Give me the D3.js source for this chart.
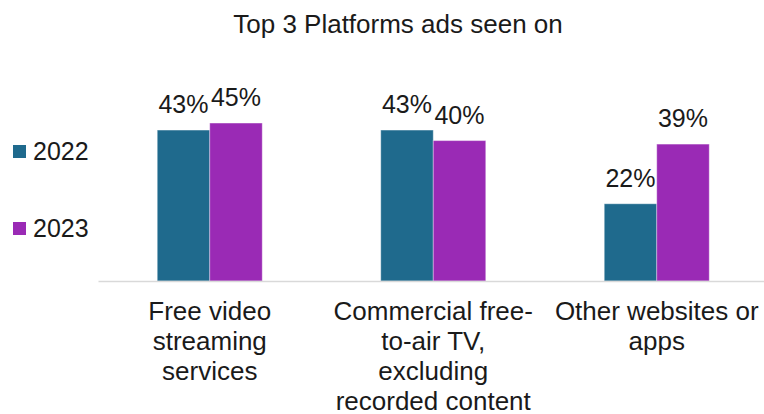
<!DOCTYPE html>
<html>
<head>
<meta charset="utf-8">
<script src="https://cdn.jsdelivr.net/npm/d3@7"></script>
<style>
  html, body { margin: 0; padding: 0; background: #fff; }
  svg { display: block; font-family: "Liberation Sans", Arial, sans-serif; }
</style>
</head>
<body>
<svg id="chart" width="764" height="414"></svg>
<script>
// Share of respondents who saw ads on each platform
const categories = [
  "Free video streaming services",
  "Commercial free-to-air TV, excluding recorded content",
  "Other websites or apps"
];
const categoryLines = [
  ["Free video", "streaming", "services"],
  ["Commercial free-", "to-air TV,", "excluding", "recorded content"],
  ["Other websites or", "apps"]
];
const seriesNames = ["2022", "2023"];
const values2022 = [43, 43, 22];
const values2023 = [45, 40, 39];
const colors = ["#1f6a8d", "#9a2ab5"];

const svg = d3.select("#chart");
const W = 764, H = 414;
const baseY = 281;

const x = d3.scaleBand().domain(categories).range([98, 768.5]).padding(0);
const xs = d3.scaleBand().domain(seriesNames).range([0, x.bandwidth()])
  .paddingInner(0).paddingOuter(1.129);
const y = d3.scaleLinear().domain([0, 50]).range([baseY, baseY - 175.5]);

const rows = categories.map((c, i) => ({
  cat: c,
  vals: [
    { s: seriesNames[0], v: values2022[i], color: colors[0] },
    { s: seriesNames[1], v: values2023[i], color: colors[1] }
  ]
}));

// Title
svg.append("text")
  .attr("x", 398).attr("y", 33)
  .attr("text-anchor", "middle")
  .attr("font-size", 26)
  .attr("fill", "#1a1a1a")
  .text("Top 3 Platforms ads seen on");

// Bars
const groups = svg.append("g").selectAll("g").data(rows).join("g")
  .attr("transform", d => `translate(${x(d.cat)},0)`);

groups.selectAll("rect").data(d => d.vals).join("rect")
  .attr("x", d => xs(d.s))
  .attr("width", xs.bandwidth())
  .attr("y", d => y(d.v))
  .attr("height", d => baseY - y(d.v))
  .attr("fill", d => d.color)
  .attr("stroke", "rgba(255,255,255,0.35)")
  .attr("stroke-width", 1);

// Value labels
groups.selectAll("text.val").data(d => d.vals).join("text")
  .attr("class", "val")
  .attr("x", d => xs(d.s) + xs.bandwidth() / 2)
  .attr("y", d => y(d.v) - 17)
  .attr("text-anchor", "middle")
  .attr("font-size", 25)
  .attr("fill", "#1a1a1a")
  .text(d => d.v + "%");

// Category axis
const xAxis = svg.append("g")
  .attr("transform", `translate(0,${baseY})`)
  .call(d3.axisBottom(x).tickSize(0).tickFormat(""));
xAxis.select(".domain").attr("stroke", "#d9d9d9").attr("stroke-width", 1.5);

const labels = svg.append("g").selectAll("text").data(categories).join("text")
  .attr("x", d => x(d) + x.bandwidth() / 2)
  .attr("y", 320)
  .attr("text-anchor", "middle")
  .attr("font-size", 26)
  .attr("fill", "#1a1a1a");
labels.selectAll("tspan").data((d, i) => categoryLines[i]).join("tspan")
  .attr("x", function () { return d3.select(this.parentNode).attr("x"); })
  .attr("dy", (d, i) => i === 0 ? 0 : 30)
  .text(d => d);

// Legend
const legendY = [158, 235];
const legend = svg.append("g").selectAll("g").data(seriesNames).join("g")
  .attr("transform", (d, i) => `translate(13,${legendY[i]})`);
legend.append("rect")
  .attr("x", 0).attr("y", -13)
  .attr("width", 13).attr("height", 13)
  .attr("fill", (d, i) => colors[i]);
legend.append("text")
  .attr("x", 20).attr("y", 2)
  .attr("font-size", 25)
  .attr("fill", "#1a1a1a")
  .text(d => d);
</script>
</body>
</html>
